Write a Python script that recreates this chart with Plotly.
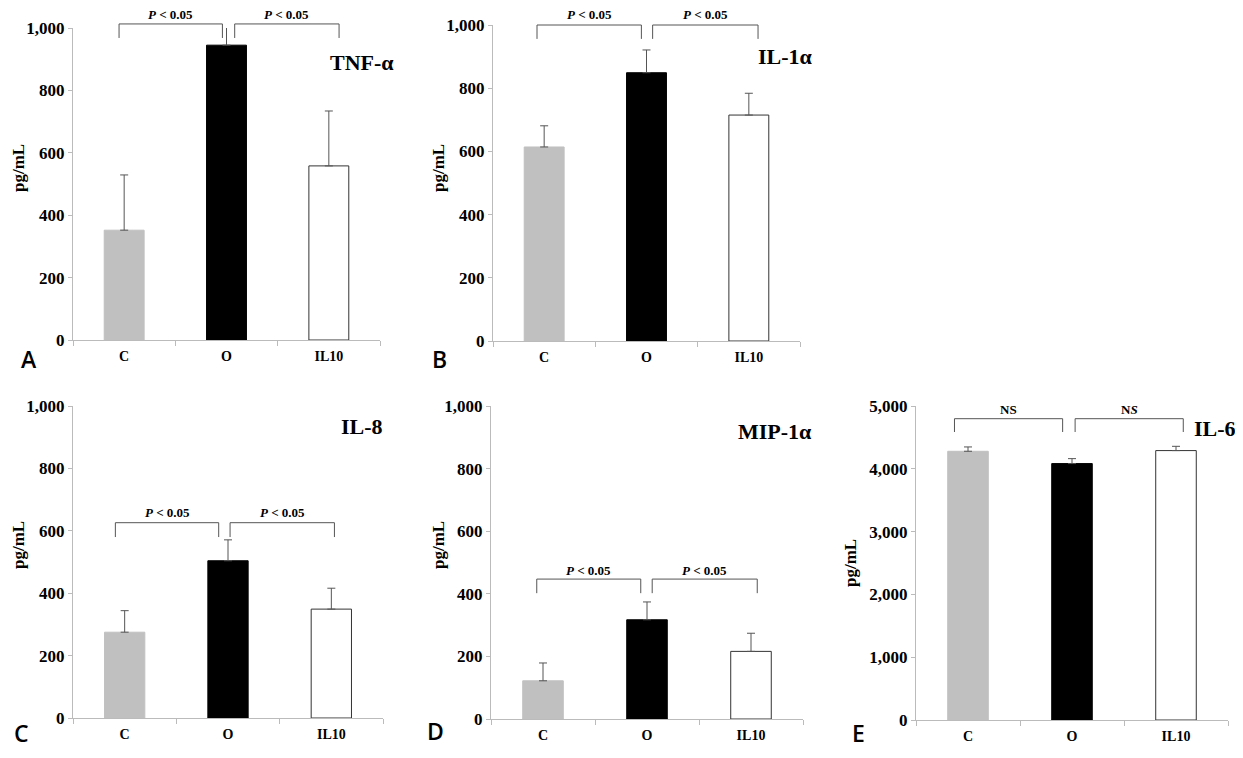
import plotly.graph_objects as go

# ---------------- data ----------------
categories = ["C", "O", "IL10"]

tnf_mean = [352, 945, 558]
tnf_err = [177, 60, 176]

il1a_mean = [614, 849, 715]
il1a_err = [67, 72, 69]

il8_mean = [275, 504, 349]
il8_err = [69, 67, 67]

mip_mean = [122, 317, 216]
mip_err = [57, 57, 58]

il6_mean = [4279, 4083, 4290]
il6_err = [69, 79, 68]

panel_titles = ["TNF-α", "IL-1α", "IL-8", "MIP-1α", "IL-6"]
panel_letters = ["A", "B", "C", "D", "E"]
sig_labels = ["<i>P</i> < 0.05", "<i>P</i> < 0.05"]
ns_labels = ["NS", "N<i>S</i>"]

# ---------------- layout helpers ----------------
OFF = 8                      # page body margin
W, H = 1243 - 2 * OFF, 758 - 2 * OFF
EXT = 45  # extra pixels above plot area for bracket layer

SERIF = "Liberation Serif, Times New Roman, serif"
bar_colors = ["#C0C0C0", "#000000", "#FFFFFF"]
bar_lines = ["#C0C0C0", "#000000", "#333333"]
AX = "#BBBBBB"


def px_x(v):
    return (v - OFF) / W


def px_y(v):
    return 1 - (v - OFF) / H


panels = [
    dict(mean=tnf_mean, err=tnf_err, ymax=1000, dtick=200, px=(73, 380, 28, 340),
         tpos=(2.32, 891), lpos=(29, 359), ypos=(18, 168),
         br=[(-0.05, 0.96, 1013, 968, 1042), (1.08, 2.10, 1013, 968, 1042)], labels=sig_labels),
    dict(mean=il1a_mean, err=il1a_err, ymax=1000, dtick=200, px=(493, 800, 25, 341),
         tpos=(2.36, 899), lpos=(439, 359), ypos=(438, 168),
         br=[(-0.07, 0.95, 1000, 956, 1032), (1.06, 2.09, 1000, 956, 1032)], labels=sig_labels),
    dict(mean=il8_mean, err=il8_err, ymax=1000, dtick=200, px=(73, 383, 406, 718),
         tpos=(2.30, 934), lpos=(21, 733), ypos=(18, 545),
         br=[(-0.09, 0.91, 626, 580, 659), (1.02, 2.03, 626, 580, 659)], labels=sig_labels),
    dict(mean=mip_mean, err=mip_err, ymax=1000, dtick=200, px=(491, 803, 406, 719),
         tpos=(2.23, 917), lpos=(435, 731), ypos=(438, 545),
         br=[(-0.06, 0.94, 447, 402, 474), (1.05, 2.06, 447, 402, 474)], labels=sig_labels),
    dict(mean=il6_mean, err=il6_err, ymax=5000, dtick=1000, px=(916, 1228, 406, 720),
         tpos=(2.375, 4640), lpos=(858, 733), ypos=(850, 563),
         br=[(-0.13, 0.91, 4798, 4586, 4942), (1.03, 2.07, 4798, 4586, 4942)], labels=ns_labels),
]

fig = go.Figure()
layout = {}
annotations = []

for i, p in enumerate(panels):
    a = 2 * i + 1
    b = 2 * i + 2
    xa = "x" if a == 1 else f"x{a}"
    ya = "y" if a == 1 else f"y{a}"
    xb, yb = f"x{b}", f"y{b}"
    x0, x1, y0, y1 = p["px"]
    ext = min(EXT, y0 - OFF)
    xdom = [px_x(x0), px_x(x1)]
    ydom = [px_y(y1), px_y(y0)]
    ydom_ext = [px_y(y1), min(1.0, px_y(y0 - ext))]
    ymax_ext = p["ymax"] * (y1 - y0 + ext) / (y1 - y0)

    fig.add_trace(go.Bar(
        x=categories, y=p["mean"],
        error_y=dict(type="data", array=p["err"], arrayminus=[0, 0, 0], symmetric=False,
                     color="#555555", thickness=1, width=4),
        marker=dict(color=bar_colors, line=dict(color=bar_lines, width=1)),
        width=0.39, xaxis=xa, yaxis=ya, cliponaxis=False, showlegend=False,
        hoverinfo="x+y",
    ))

    # bracket layer
    for (bx0, bx1, ytop, yleg, ytxt), lab in zip(p["br"], p["labels"]):
        fig.add_trace(go.Scatter(
            x=[bx0, bx0, bx1, bx1], y=[yleg, ytop, ytop, yleg], mode="lines",
            line=dict(color="#555555", width=1), xaxis=xb, yaxis=yb,
            showlegend=False, hoverinfo="skip",
        ))
        annotations.append(dict(
            x=(bx0 + bx1) / 2, y=ytxt, xref=xb, yref=yb, text=lab, showarrow=False,
            font=dict(family=SERIF, size=13, color="black", weight="bold"),
            xanchor="center", yanchor="middle",
        ))

    layout[f"xaxis{'' if a == 1 else a}"] = dict(
        domain=xdom, anchor=ya, type="category", range=[-0.5, 2.5],
        showline=True, linecolor=AX, linewidth=1, ticks="outside", tickson="boundaries",
        ticklen=5, tickcolor=AX, showgrid=False, zeroline=False, automargin=False,
        tickfont=dict(family=SERIF, size=14, color="black", weight="bold"),
        ticklabelstandoff=3, fixedrange=True,
    )
    layout[f"yaxis{'' if a == 1 else a}"] = dict(
        domain=ydom, anchor=xa, range=[0, p["ymax"]],
        tickvals=list(range(0, p["ymax"] + 1, p["dtick"])), tickformat=",",
        showline=True, linecolor=AX, linewidth=1, ticks="outside", ticklen=4,
        tickcolor=AX, showgrid=False, zeroline=False, automargin=False,
        tickfont=dict(family=SERIF, size=17, color="black", weight="bold"),
        fixedrange=True,
    )
    layout[f"xaxis{b}"] = dict(domain=xdom, anchor=yb, range=[-0.5, 2.5], visible=False,
                               automargin=False, fixedrange=True)
    layout[f"yaxis{b}"] = dict(domain=ydom_ext, anchor=xb, range=[0, ymax_ext], visible=False,
                               automargin=False, fixedrange=True)

    # panel title
    annotations.append(dict(
        x=p["tpos"][0], y=p["tpos"][1], xref=xa, yref=ya, text=panel_titles[i],
        showarrow=False, xanchor="center", yanchor="middle",
        font=dict(family=SERIF, size=22, color="black", weight="bold"),
    ))
    # panel letter
    annotations.append(dict(
        x=px_x(p["lpos"][0]), y=px_y(p["lpos"][1]), xref="paper", yref="paper",
        text=panel_letters[i], showarrow=False, xanchor="center", yanchor="middle",
        font=dict(family="Open Sans, Noto Sans, sans-serif", size=23, color="black", weight=600),
    ))
    # y axis title
    annotations.append(dict(
        x=px_x(p["ypos"][0]), y=px_y(p["ypos"][1]), xref="paper", yref="paper",
        text="pg/mL", textangle=-90, showarrow=False, xanchor="center", yanchor="middle",
        font=dict(family=SERIF, size=17, color="black", weight="bold"),
    ))

fig.update_layout(
    width=W, height=H, autosize=False,
    margin=dict(l=0, r=0, t=0, b=0, pad=0, autoexpand=False),
    paper_bgcolor="white", plot_bgcolor="rgba(0,0,0,0)",
    annotations=annotations, showlegend=False, bargap=0.2,
    **layout,
)

fig.write_html("out.html")
